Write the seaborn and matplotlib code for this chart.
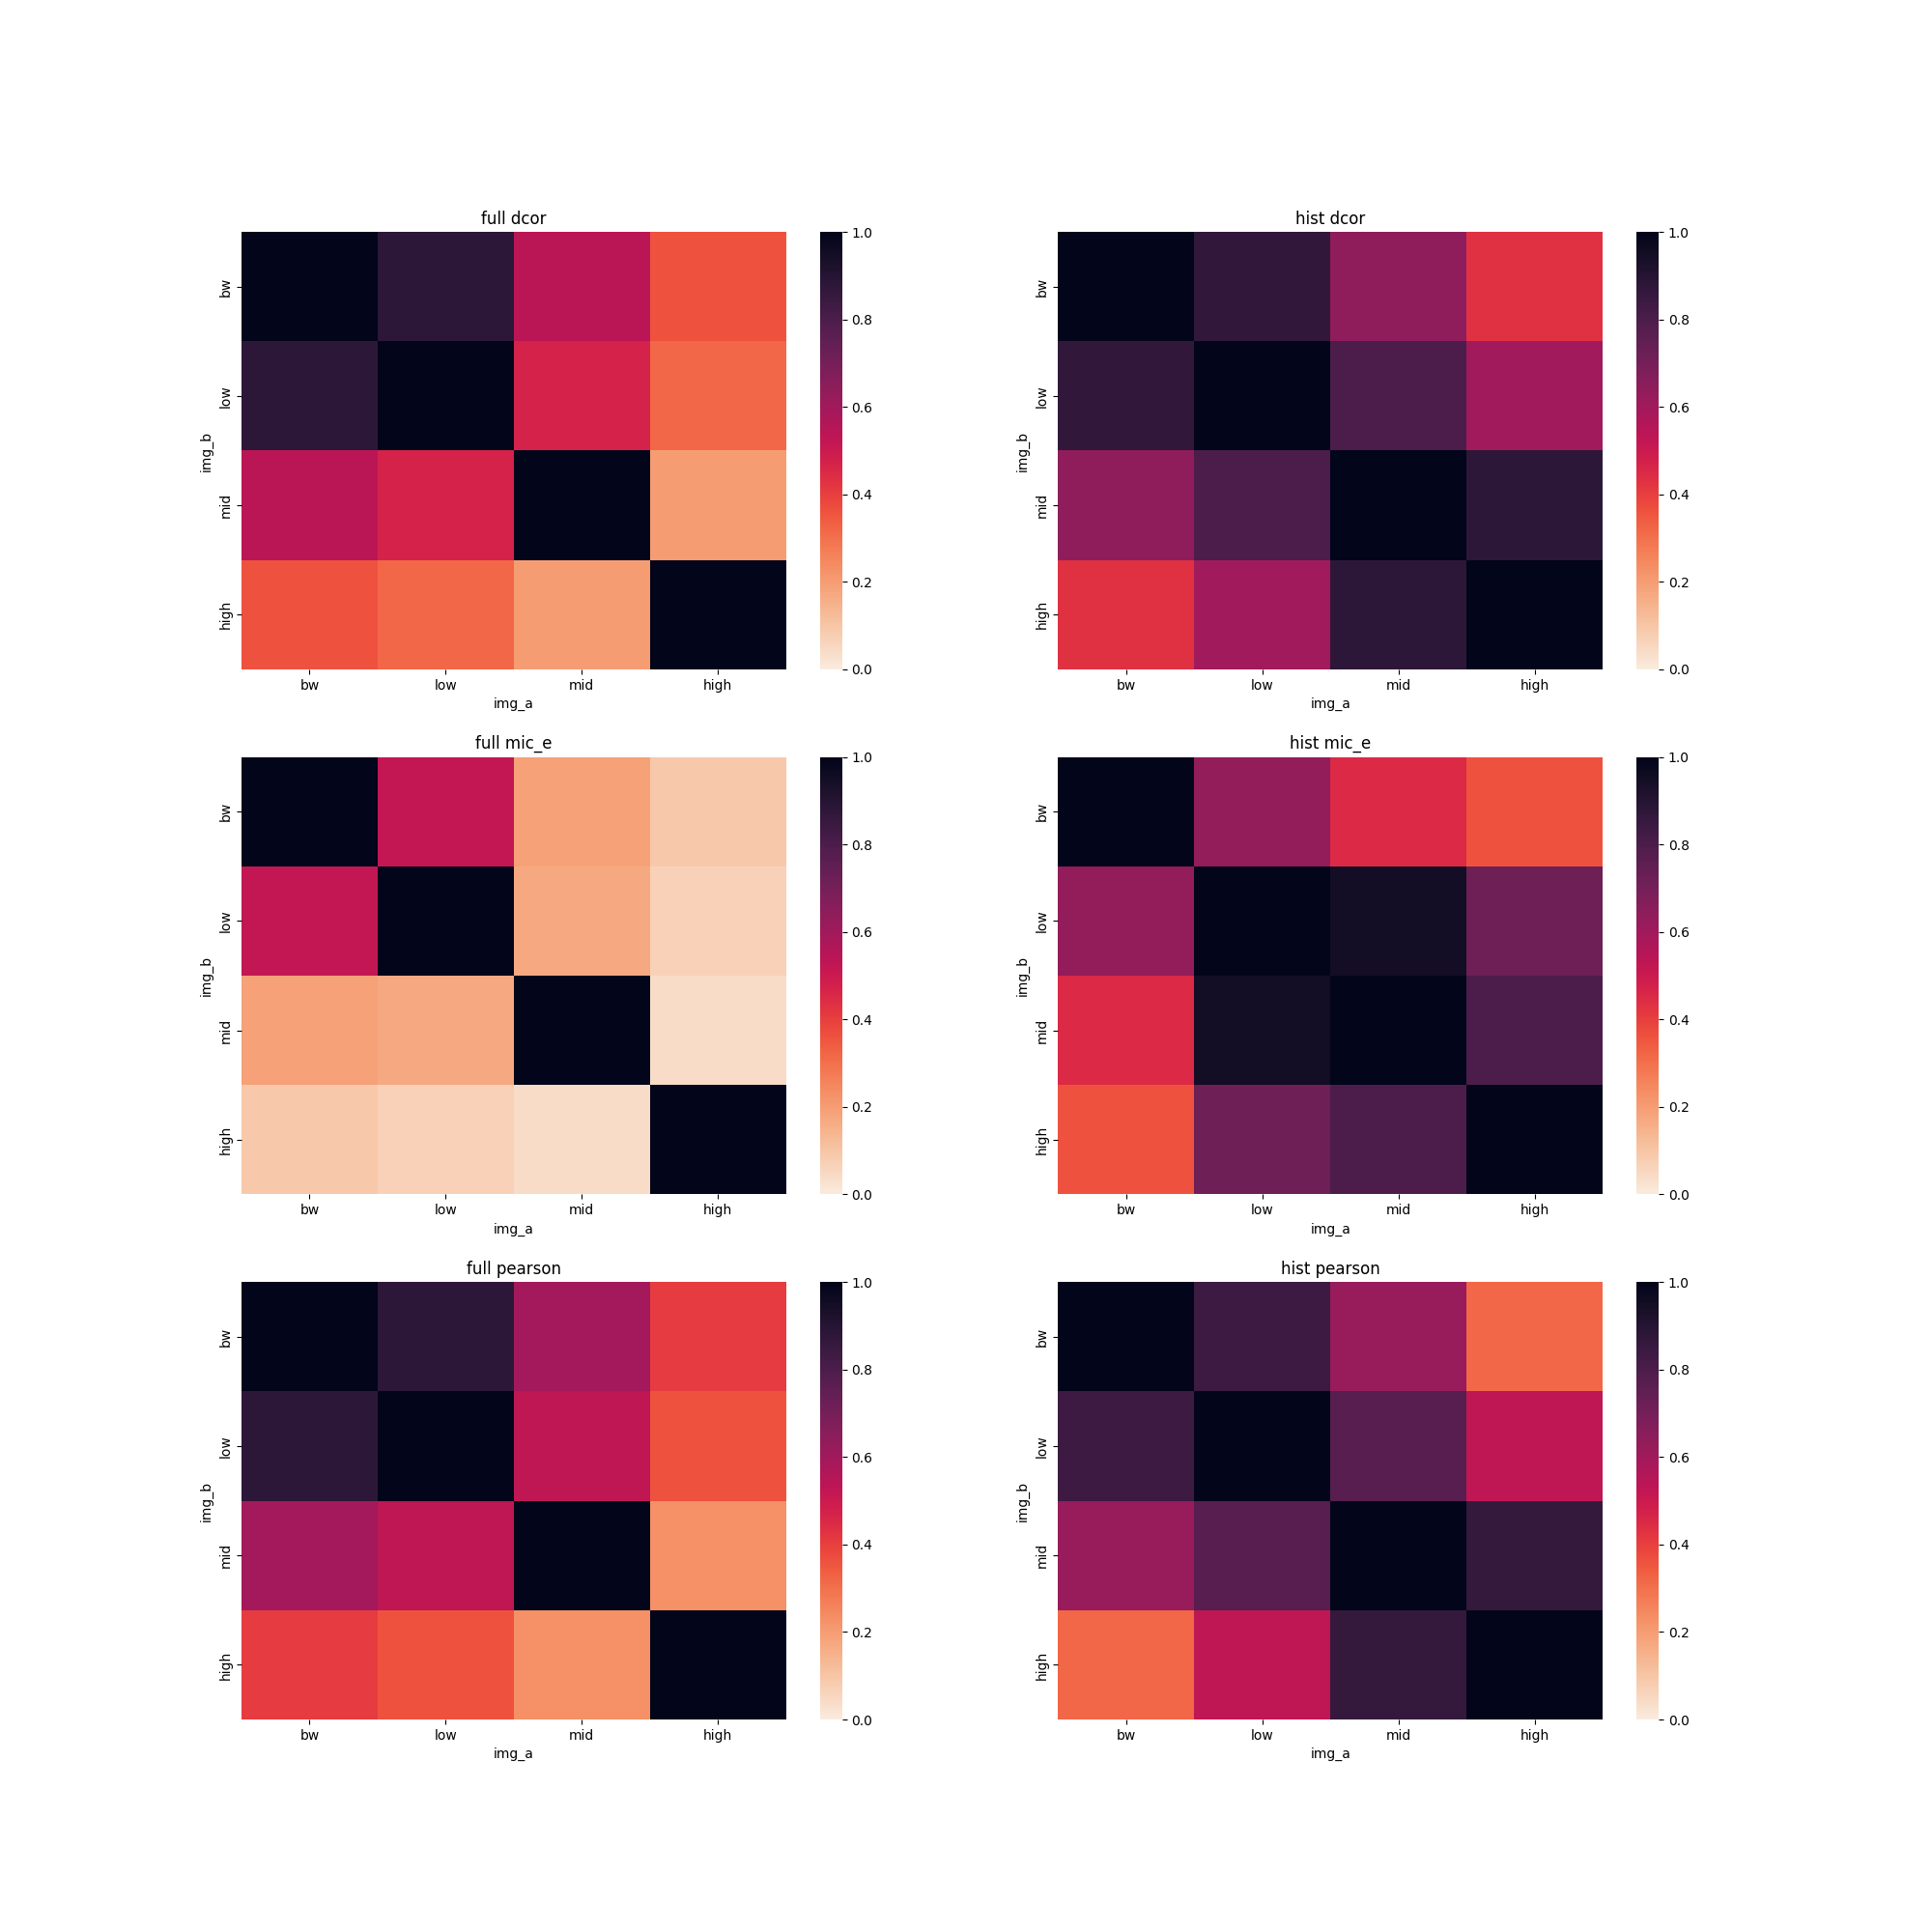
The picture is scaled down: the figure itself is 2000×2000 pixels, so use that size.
import numpy as np
import pandas as pd
import seaborn as sns
import matplotlib
matplotlib.use("Agg")
import matplotlib.pyplot as plt

labels = ["bw", "low", "mid", "high"]

full_dcor = [[1.00, 0.88, 0.54, 0.36],
             [0.88, 1.00, 0.47, 0.32],
             [0.54, 0.47, 1.00, 0.20],
             [0.36, 0.32, 0.20, 1.00]]
hist_dcor = [[1.00, 0.87, 0.64, 0.43],
             [0.87, 1.00, 0.80, 0.60],
             [0.64, 0.80, 1.00, 0.88],
             [0.43, 0.60, 0.88, 1.00]]
full_mic_e = [[1.00, 0.52, 0.19, 0.09],
              [0.52, 1.00, 0.17, 0.07],
              [0.19, 0.17, 1.00, 0.04],
              [0.09, 0.07, 0.04, 1.00]]
hist_mic_e = [[1.00, 0.63, 0.45, 0.36],
              [0.63, 1.00, 0.95, 0.72],
              [0.45, 0.95, 1.00, 0.80],
              [0.36, 0.72, 0.80, 1.00]]
full_pearson = [[1.00, 0.88, 0.59, 0.41],
                [0.88, 1.00, 0.53, 0.36],
                [0.59, 0.53, 1.00, 0.23],
                [0.41, 0.36, 0.23, 1.00]]
hist_pearson = [[1.00, 0.84, 0.62, 0.32],
                [0.84, 1.00, 0.77, 0.53],
                [0.62, 0.77, 1.00, 0.86],
                [0.32, 0.53, 0.86, 1.00]]

panels = [("full dcor", full_dcor), ("hist dcor", hist_dcor),
          ("full mic_e", full_mic_e), ("hist mic_e", hist_mic_e),
          ("full pearson", full_pearson), ("hist pearson", hist_pearson)]

fig, axes = plt.subplots(3, 2, figsize=(20, 20), dpi=100)
for ax, (title, data) in zip(axes.flat, panels):
    df = pd.DataFrame(data, index=pd.Index(labels, name="img_b"),
                      columns=pd.Index(labels, name="img_a"))
    sns.heatmap(df, ax=ax, cmap="rocket_r", vmin=0, vmax=1)
    ax.set_title(title)

fig.savefig("out.png", dpi=100)
